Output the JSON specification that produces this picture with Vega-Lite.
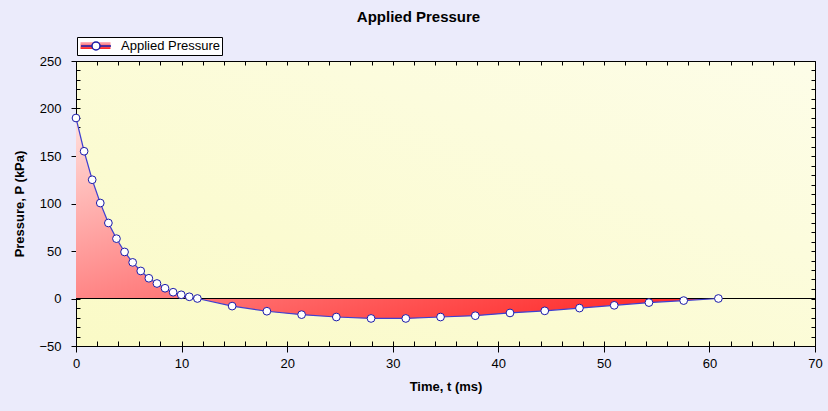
{
  "$schema": "https://vega.github.io/schema/vega-lite/v6.json",
  "width": 739,
  "height": 285,
  "autosize": {"type": "none"},
  "padding": {"left": 76, "top": 61, "right": 13, "bottom": 65},
  "background": "#ebebfb",
  "title": {"text": "Applied Pressure", "anchor": "middle", "frame": "group", "dx": -27, "offset": 12, "font": "Liberation Sans", "fontSize": 15, "fontWeight": "bold", "color": "#000000"},
  "config": {
    "font": "Liberation Sans",
    "view": {"stroke": null, "fill": {"gradient": "linear", "x1": 1, "y1": 0, "x2": 0, "y2": 1, "stops": [{"offset": 0, "color": "#fdfde8"}, {"offset": 1, "color": "#fafac6"}]}},
    "axis": {"grid": false, "domainColor": "#000000", "tickColor": "#000000", "labelColor": "#000000", "titleColor": "#000000", "labelFont": "Liberation Sans", "titleFont": "Liberation Sans", "labelFontSize": 13, "titleFontSize": 13, "titleFontWeight": "bold", "domainWidth": 1, "tickWidth": 1}
  },
  "data": {"values": [
    {"t": 0, "p": 190},
    {"t": 0.767, "p": 155},
    {"t": 1.533, "p": 125},
    {"t": 2.3, "p": 100.5},
    {"t": 3.067, "p": 79.5},
    {"t": 3.833, "p": 63},
    {"t": 4.6, "p": 49},
    {"t": 5.367, "p": 38},
    {"t": 6.133, "p": 29},
    {"t": 6.9, "p": 21.3},
    {"t": 7.667, "p": 15.8},
    {"t": 8.433, "p": 10.8},
    {"t": 9.2, "p": 6.6},
    {"t": 9.967, "p": 3.9},
    {"t": 10.733, "p": 1.8},
    {"t": 11.5, "p": 0},
    {"t": 14.79, "p": -8},
    {"t": 18.08, "p": -13.4},
    {"t": 21.37, "p": -17},
    {"t": 24.66, "p": -19.5},
    {"t": 27.95, "p": -21},
    {"t": 31.24, "p": -21},
    {"t": 34.53, "p": -19.5},
    {"t": 37.82, "p": -18.1},
    {"t": 41.11, "p": -15.2},
    {"t": 44.4, "p": -13},
    {"t": 47.69, "p": -10.1},
    {"t": 50.98, "p": -7.2},
    {"t": 54.27, "p": -4.3},
    {"t": 57.56, "p": -2.2},
    {"t": 60.85, "p": 0}
  ]},
  "resolve": {"axis": {"x": "independent", "y": "independent"}, "legend": {"color": "independent", "fill": "independent"}},
  "layer": [
    {
      "mark": {"type": "area", "interpolate": "linear", "color": {"gradient": "linear", "x1": 0, "y1": 0, "x2": 1, "y2": 1, "stops": [{"offset": 0, "color": "#ffe0dc"}, {"offset": 0.45, "color": "#ff8686"}, {"offset": 1, "color": "#ff1c1c"}]}},
      "encoding": {
        "x": {"field": "t", "type": "quantitative", "scale": {"domain": [0, 70], "nice": false, "zero": false},
              "axis": {"orient": "bottom", "values": [0, 10, 20, 30, 40, 50, 60, 70], "tickSize": 6, "labelPadding": 5, "title": "Time, t (ms)", "titlePadding": 10, "labelFlush": false}},
        "y": {"field": "p", "type": "quantitative", "scale": {"domain": [-50, 250], "nice": false, "zero": false},
              "axis": {"orient": "left", "values": [-50, 0, 50, 100, 150, 200, 250], "tickSize": 5, "labelPadding": 10, "title": "Pressure, P (kPa)", "titlePadding": 12, "labelFlush": false}},
        "y2": {"datum": 0}
      }
    },
    {
      "mark": {"type": "rule", "color": "#000000", "strokeWidth": 1},
      "encoding": {
        "y": {"datum": 0, "type": "quantitative",
              "axis": {"orient": "left", "values": [-50, -40, -30, -20, -10, 0, 10, 20, 30, 40, 50, 60, 70, 80, 90, 100, 110, 120, 130, 140, 150, 160, 170, 180, 190, 200, 210, 220, 230, 240, 250], "tickSize": -4, "labels": false, "domain": false, "title": null}},
        "color": {"datum": "Applied Pressure ", "scale": {"range": ["#000000"]},
                  "legend": {"orient": "none", "legendX": 1, "legendY": -24, "title": null, "padding": 2, "strokeColor": "#000000", "fillColor": "#ffffff", "cornerRadius": 0, "symbolSize": 144, "symbolOffset": 10, "symbolType": "M-2.5,-0.58H2.5V0.58H-2.5Z", "labelFont": "Liberation Sans", "labelFontSize": 13, "labelColor": "#000000", "labelOffset": 19, "zindex": 0,
                             "encode": {"symbols": {"update": {"fill": {"value": {"gradient": "linear", "x1": 0, "y1": 0, "x2": 0, "y2": 1, "stops": [{"offset": 0, "color": "#ffb8c0"}, {"offset": 1, "color": "#ff2020"}]}}, "stroke": {"value": "transparent"}, "strokeWidth": {"value": 0}, "opacity": {"value": 1}}}}}}
      }
    },
    {
      "mark": {"type": "line", "color": "#3f3fd0", "strokeWidth": 1.2},
      "encoding": {
        "x": {"field": "t", "type": "quantitative",
              "axis": {"orient": "bottom", "values": [0, 2, 4, 6, 8, 10, 12, 14, 16, 18, 20, 22, 24, 26, 28, 30, 32, 34, 36, 38, 40, 42, 44, 46, 48, 50, 52, 54, 56, 58, 60, 62, 64, 66, 68, 70], "tickSize": -5, "labels": false, "domain": false, "title": null}},
        "y": {"field": "p", "type": "quantitative",
              "axis": {"orient": "right", "values": [-50, -40, -30, -20, -10, 0, 10, 20, 30, 40, 50, 60, 70, 80, 90, 100, 110, 120, 130, 140, 150, 160, 170, 180, 190, 200, 210, 220, 230, 240, 250], "tickSize": -4, "labels": false, "domain": true, "title": null}}
      }
    },
    {
      "mark": {"type": "point", "filled": true, "stroke": "#1a1aa8", "strokeWidth": 1, "size": 60, "opacity": 1},
      "encoding": {
        "x": {"field": "t", "type": "quantitative",
              "axis": {"orient": "top", "values": [0, 2, 4, 6, 8, 10, 12, 14, 16, 18, 20, 22, 24, 26, 28, 30, 32, 34, 36, 38, 40, 42, 44, 46, 48, 50, 52, 54, 56, 58, 60, 62, 64, 66, 68, 70], "tickSize": -4, "labels": false, "domain": true, "title": null}},
        "y": {"field": "p", "type": "quantitative", "axis": null},
        "fill": {"datum": "Applied Pressure", "scale": {"range": ["#ffffff"]},
                 "legend": {"orient": "none", "legendX": 1, "legendY": -24, "title": null, "padding": 2, "symbolSize": 144, "symbolOffset": 10, "symbolType": "M-2.5,0H-0.67M0.67,0H2.5M0.67,0A0.67,0.67 0 1,1 -0.67,0A0.67,0.67 0 1,1 0.67,0", "labelFont": "Liberation Sans", "labelFontSize": 13, "labelColor": "transparent", "labelOffset": 19, "zindex": 1,
                            "encode": {"symbols": {"update": {"fill": {"value": "#ffffff"}, "stroke": {"value": "#3030c0"}, "strokeWidth": {"value": 1.2}, "opacity": {"value": 1}}}}}}
      }
    }
  ]
}
